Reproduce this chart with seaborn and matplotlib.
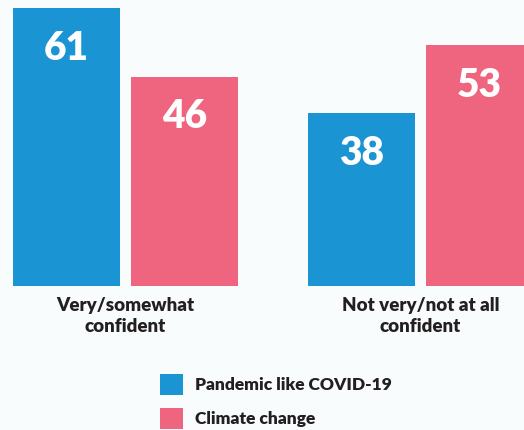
import matplotlib
matplotlib.use("Agg")
import matplotlib.pyplot as plt
import seaborn as sns
import pandas as pd
from matplotlib.patches import Patch

categories = ["Very/somewhat\nconfident", "Not very/not at all\nconfident"]
series = ["Pandemic like COVID-19", "Climate change"]
pandemic = [61, 38]
climate = [46, 53]
colors = ["#1a94d2", "#ef647e"]
bg = "#f9fcfc"
txt = "#231f20"

df = pd.DataFrame({
    "category": categories * 2,
    "series": [series[0]] * 2 + [series[1]] * 2,
    "value": pandemic + climate,
})

sns.set_theme(style="white")
plt.rcParams["font.family"] = ["Lato", "DejaVu Sans"]
W = "heavy"

fig = plt.figure(figsize=(5.24, 4.30), dpi=100, facecolor=bg)
ax = fig.add_axes([0, 144 / 430, 1, 286 / 430])
ax.set_facecolor(bg)

sns.barplot(data=df, x="category", y="value", hue="series", order=categories,
            hue_order=series, palette=colors, width=0.8, gap=0.093,
            saturation=1, ax=ax, legend=False, linewidth=0)

for cont in ax.containers:
    for bar in cont:
        h = bar.get_height()
        ax.annotate(f"{h:.0f}", (bar.get_x() + bar.get_width() / 2, h),
                    xytext=(0, -29), textcoords="offset points",
                    ha="center", va="center", color="white",
                    fontsize=28, fontweight=W)

ax.set_xlim(-0.4254, 1.3508)
ax.set_ylim(0, 62.86)
ax.set_xlabel("")
ax.set_ylabel("")
ax.set_yticks([])
ax.tick_params(axis="x", length=0, pad=8)
for lab in ax.get_xticklabels():
    lab.set_fontsize(13.5)
    lab.set_fontweight(W)
    lab.set_color(txt)
    lab.set_linespacing(1.3)
for s in ax.spines.values():
    s.set_visible(False)

handles = [Patch(facecolor=c, edgecolor="none", label=l) for c, l in zip(colors, series)]
leg = fig.legend(handles=handles, loc="upper left", bbox_to_anchor=(160 / 524, 1 - 374 / 430),
                 frameon=False, handlelength=1.32, handleheight=1.52,
                 handletextpad=0.7, labelspacing=0.72, borderaxespad=0, borderpad=0,
                 prop={"size": 12.5, "weight": W})
for t in leg.get_texts():
    t.set_color(txt)

fig.savefig("out.png", dpi=100, facecolor=bg)
